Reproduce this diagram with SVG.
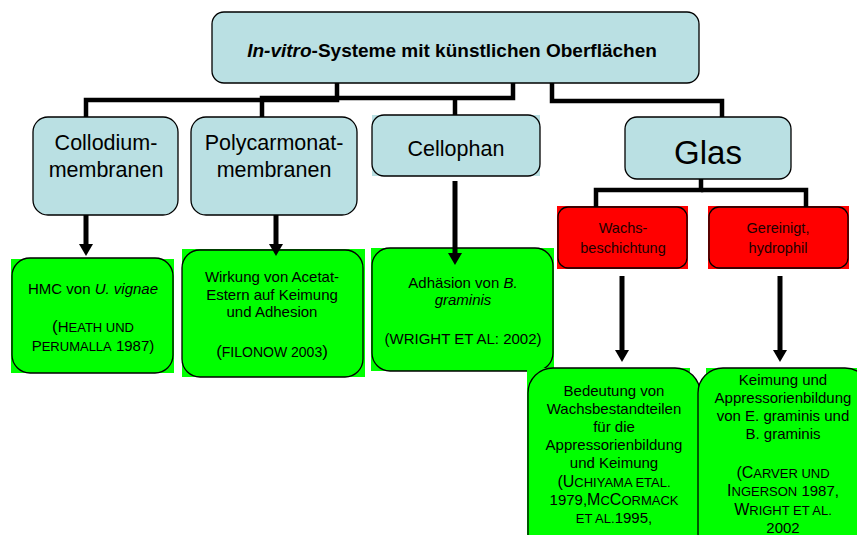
<svg xmlns="http://www.w3.org/2000/svg" width="857" height="535" viewBox="0 0 857 535">
<style>
text{font-family:"Liberation Sans",Arial,sans-serif;fill:#000;text-anchor:middle}
.blue{fill:#BAE0E3;stroke:#000;stroke-width:1.3}
.gbg{fill:#00FF00}
.g{fill:#00FF00;stroke:#000;stroke-width:1.3}
.rbg{fill:#FF0000}
.r{fill:#FF0000;stroke:#000;stroke-width:1.3}
.big{font-size:21.5px}
.sm{font-size:15px}
.rt{font-size:14.5px;fill:#200000}
.sc{font-size:13px}
.it{font-style:italic}
.conn{fill:none;stroke:#000;stroke-width:4.5}
.arr{stroke:#000;stroke-width:5}
</style>
<defs>
<marker id="ah" markerUnits="userSpaceOnUse" markerWidth="14" markerHeight="14" viewBox="0 0 12 14" refX="0" refY="7" orient="auto">
<path d="M0,0 L12,7 L0,14 z" fill="#000"/>
</marker>
</defs>

<g id="root">
<rect class="blue" x="212" y="12" width="487" height="71" rx="12"/>
<text x="452" y="57" style="font-size:19px;font-weight:bold"><tspan class="it">In-vitro</tspan>-Systeme mit künstlichen Oberflächen</text>
</g>

<g id="collodium">
<rect class="blue" x="33" y="117" width="145" height="98" rx="15"/>
<text class="big" x="106" y="150">Collodium-</text>
<text class="big" x="106" y="177">membranen</text>
</g>

<g id="polycarmonat">
<rect class="blue" x="191" y="117" width="166" height="98" rx="15"/>
<text class="big" x="274" y="150">Polycarmonat-</text>
<text class="big" x="274" y="177">membranen</text>
</g>

<g id="cellophan">
<rect x="372" y="115" width="168" height="61" fill="#BAE0E3"/>
<rect class="blue" x="372" y="115" width="168" height="61" rx="12"/>
<text class="big" x="456" y="156">Cellophan</text>
</g>

<g id="glas">
<rect class="blue" x="625" y="117" width="166" height="62" rx="12"/>
<text x="708" y="164" style="font-size:33px">Glas</text>
</g>

<g id="wachs">
<rect class="rbg" x="557" y="206" width="131" height="63"/>
<rect class="r" x="558" y="207" width="129" height="61" rx="10"/>
<text class="rt" x="623" y="233">Wachs-</text>
<text class="rt" x="623" y="253">beschichtung</text>
</g>

<g id="gereinigt">
<rect class="rbg" x="708" y="206" width="141" height="63"/>
<rect class="r" x="709" y="207" width="139" height="61" rx="10"/>
<text class="rt" x="778" y="233">Gereinigt,</text>
<text class="rt" x="778" y="253">hydrophil</text>
</g>

<g id="hmc">
<rect class="gbg" x="11" y="259" width="163" height="114"/>
<rect class="g" x="12" y="258" width="161" height="115" rx="18"/>
<text class="sm" x="93" y="294">HMC von <tspan class="it">U. vignae</tspan></text>
<text class="sm" x="93" y="332"><tspan style="font-size:17px">(</tspan>H<tspan class="sc">EATH UND</tspan></text>
<text class="sm" x="93" y="351">P<tspan class="sc">ERUMALLA</tspan> 1987)</text>
</g>

<g id="wirkung">
<rect class="gbg" x="182" y="249" width="183" height="128"/>
<rect class="g" x="182" y="250" width="181" height="127" rx="18"/>
<text class="sm" x="272" y="282">Wirkung von Acetat-</text>
<text class="sm" x="272" y="300">Estern auf Keimung</text>
<text class="sm" x="272" y="317">und Adhesion</text>
<text class="sm" x="272" y="357"><tspan style="font-size:17px">(</tspan><tspan style="font-size:14px">FILONOW 2003</tspan><tspan style="font-size:17px">)</tspan></text>
</g>

<g id="adhaesion">
<rect class="gbg" x="371" y="248" width="183" height="123"/>
<rect class="g" x="372" y="248" width="181" height="123" rx="18"/>
<text class="sm" x="463" y="288">Adhäsion von <tspan class="it">B.</tspan></text>
<text class="sm it" x="463" y="305">graminis</text>
<text class="sm" x="463" y="344">(WRIGHT ET AL: 2002)</text>
</g>

<g id="bedeutung">
<rect class="gbg" x="527" y="368" width="163" height="167"/>
<rect class="g" x="528" y="368" width="172" height="190" rx="25"/>
<text class="sm" x="614" y="396">Bedeutung von</text>
<text class="sm" x="614" y="414">Wachsbestandteilen</text>
<text class="sm" x="614" y="432">für die</text>
<text class="sm" x="614" y="450">Appressorienbildung</text>
<text class="sm" x="614" y="468">und Keimung</text>
<text class="sm" x="614" y="487"><tspan style="font-size:16px">(U</tspan><tspan class="sc">CHIYAMA ETAL.</tspan></text>
<text class="sm" x="614" y="505">1979,<tspan style="font-size:16px">M</tspan><tspan class="sc">C</tspan><tspan style="font-size:16px">C</tspan><tspan class="sc">ORMACK</tspan></text>
<text class="sm" x="614" y="523"><tspan class="sc">ET AL.</tspan>1995,</text>
</g>

<g id="keimung">
<rect class="gbg" x="706" y="368" width="151" height="167"/>
<rect class="g" x="698" y="368" width="172" height="190" rx="25"/>
<text class="sm" x="783" y="385">Keimung und</text>
<text class="sm" x="783" y="403">Appressorienbildung</text>
<text class="sm" x="783" y="421">von E. graminis und</text>
<text class="sm" x="783" y="439">B. graminis</text>
<text class="sm" x="783" y="478"><tspan style="font-size:16px">(C</tspan><tspan class="sc">ARVER UND</tspan></text>
<text class="sm" x="783" y="496"><tspan style="font-size:16px">I</tspan><tspan class="sc">NGERSON</tspan> 1987,</text>
<text class="sm" x="783" y="515"><tspan style="font-size:16px">W</tspan><tspan class="sc">RIGHT ET AL.</tspan></text>
<text class="sm" x="783" y="533">2002</text>
</g>

<g id="connectors">
<path class="conn" d="M337,83 V100 H86 V117"/>
<path class="conn" d="M513,83 V98 H262 V117"/>
<path class="conn" d="M455,98 V115"/>
<path class="conn" d="M552,83 V101 H722 V117"/>
<path class="conn" d="M701,179 V190 H596 V207"/>
<path class="conn" d="M701,190 H806 V207"/>
<line class="arr" x1="86" y1="215" x2="86" y2="244" marker-end="url(#ah)"/>
<line class="arr" x1="276" y1="215" x2="276" y2="244" marker-end="url(#ah)"/>
<line class="arr" x1="455" y1="181" x2="455" y2="253" marker-end="url(#ah)"/>
<line class="arr" x1="622" y1="276" x2="622" y2="350" marker-end="url(#ah)"/>
<line class="arr" x1="780" y1="276" x2="780" y2="350" marker-end="url(#ah)"/>
</g>
</svg>
